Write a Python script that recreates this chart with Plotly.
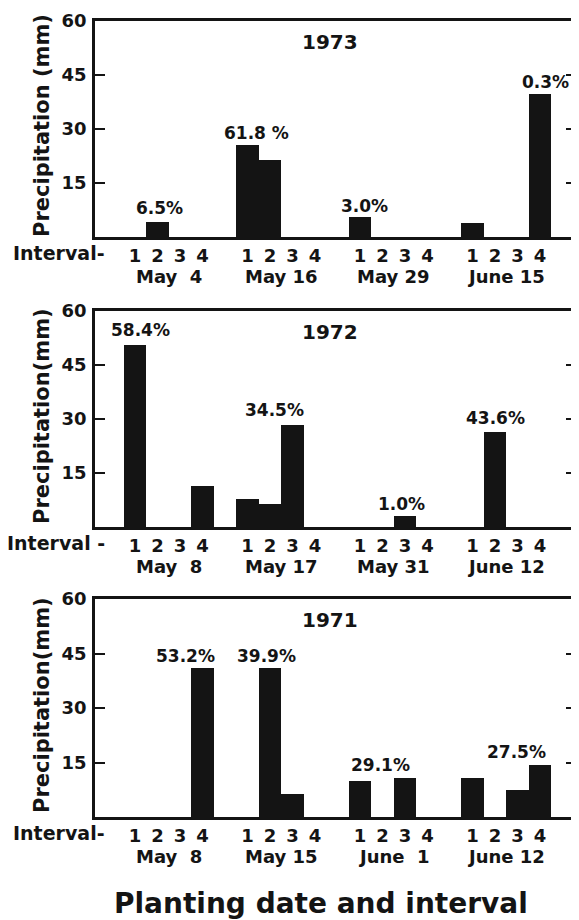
import plotly.graph_objects as go

# ---------------- data ----------------
years = ["1973", "1972", "1971"]
intervals = ["1", "2", "3", "4"]

dates_1973 = ["May\u00a0\u00a04", "May\u00a016", "May\u00a029", "June\u00a015"]
dates_1972 = ["May\u00a0\u00a08", "May\u00a017", "May\u00a031", "June\u00a012"]
dates_1971 = ["May\u00a0\u00a08", "May\u00a015", "June\u00a0\u00a01", "June\u00a012"]

# precipitation (mm), 4 intervals for each planting date (in order)
precip_1973 = [0, 4.3, 0, 0, 25.6, 21.4, 0, 0, 5.6, 0, 0, 0, 3.8, 0, 0, 39.6]
precip_1972 = [50.6, 0, 0, 11.4, 7.8, 6.4, 28.3, 0, 0, 0, 3.1, 0, 0, 26.3, 0, 0]
precip_1971 = [0, 0, 0, 41.0, 0, 41.0, 6.3, 0, 10.0, 0, 10.8, 0, 10.6, 0, 7.4, 14.3]

pct_1973 = ["6.5%", "61.8 %", "3.0%", "0.3%"]
pct_1972 = ["58.4%", "34.5%", "1.0%", "43.6%"]
pct_1971 = ["53.2%", "39.9%", "29.1%", "27.5%"]

# index of the bar above which each percentage is written
pct_bar_1973 = [1, 4, 8, 15]
pct_bar_1972 = [0, 6, 10, 13]
pct_bar_1971 = [3, 5, 10, 15]

ytick_vals = [15, 30, 45, 60]
ytitles = ["Precipitation (mm)", "Precipitation(mm)", "Precipitation(mm)"]
interval_labels = ["Interval-", "Interval -", "Interval-"]

# ---------------- layout helpers (pixels) ----------------
PAGE_OFF = 8          # default page margin around the figure
W, H = 579 - PAGE_OFF, 920 - PAGE_OFF
FONT = "DejaVu Sans"
INK = "#141414"

def px(x):
    return (x - PAGE_OFF) / W

def py(y):
    return 1 - (y - PAGE_OFF) / H

panel_px = [(21, 237), (311, 527), (599, 817)]  # top, bottom
x_left, x_right = 95, 576

# label offsets in pixels (dx, dy) for percentage annotations
pct_off_1973 = [(2, 14), (9, 12), (4, 11), (5, 12)]
pct_off_1972 = [(5, 15), (-18, 15), (-4, 12), (0, 14)]
pct_off_1971 = [(-17, 12), (-4, 12), (-25, 13), (-24, 13)]

all_precip = [precip_1973, precip_1972, precip_1971]
all_dates = [dates_1973, dates_1972, dates_1971]
all_pct = [pct_1973, pct_1972, pct_1971]
all_pct_bar = [pct_bar_1973, pct_bar_1972, pct_bar_1971]
all_pct_off = [pct_off_1973, pct_off_1972, pct_off_1971]

# bar slot positions: date group g, interval i -> g*5 + i
positions = [g * 5 + i for g in range(4) for i in range(1, 5)]
tick_text = [intervals[i - 1] for g in range(4) for i in range(1, 5)]

fig = go.Figure()
annotations = []
layout = dict(
    width=W, height=H,
    margin=dict(l=0, r=0, t=0, b=0, autoexpand=False),
    paper_bgcolor="white", plot_bgcolor="white",
    showlegend=False, bargap=0,
)

for k in range(3):
    sfx = "" if k == 0 else str(k + 1)
    xa, ya = "x" + sfx, "y" + sfx
    top, bot = panel_px[k]
    fig.add_trace(go.Bar(
        x=positions, y=all_precip[k], width=1.0,
        marker=dict(color=INK, line=dict(width=0)),
        xaxis=xa, yaxis=ya, hoverinfo="x+y",
    ))
    layout["xaxis" + sfx] = dict(
        domain=[px(x_left), px(x_right)], range=[-0.78, 20.6],
        anchor=ya, tickvals=positions, ticktext=tick_text, automargin=False,
        ticks="", showline=True, mirror=True, linecolor=INK, linewidth=2.5,
        showgrid=False, zeroline=False, ticklabelstandoff=1,
        tickfont=dict(family=FONT, size=18, weight="bold", color=INK),
    )
    layout["yaxis" + sfx] = dict(
        domain=[py(bot), py(top)], range=[0, 60], anchor=xa, automargin=False,
        tickvals=ytick_vals, ticks="inside", ticklen=10, tickwidth=2,
        tickcolor=INK, showline=True, mirror="ticks", linecolor=INK,
        linewidth=2.5, showgrid=False, zeroline=False, ticklabelstandoff=2,
        tickfont=dict(family=FONT, size=18, weight="bold", color=INK),
    )
    # y-axis title
    annotations.append(dict(
        text=ytitles[k], textangle=-90, xref="paper", yref="paper",
        x=px(42), y=py((top + bot) / 2 - 3), showarrow=False,
        xanchor="center", yanchor="middle",
        font=dict(family=FONT, size=21, weight="bold", color=INK),
    ))
    # year
    annotations.append(dict(
        text=years[k], xref="paper", yref="paper", x=px(330), y=py(top + 21),
        showarrow=False, xanchor="center", yanchor="middle",
        font=dict(family=FONT, size=20, weight="bold", color=INK),
    ))
    # Interval- label
    annotations.append(dict(
        text=interval_labels[k], xref="paper", yref="paper", x=px(107),
        y=py(bot + 16), showarrow=False, xanchor="right", yanchor="middle",
        font=dict(family=FONT, size=19, weight="bold", color=INK),
    ))
    # planting dates
    for g, d in enumerate(all_dates[k]):
        annotations.append(dict(
            text=d, xref=xa, yref="paper", x=g * 5 + 2.5, y=py(bot + 39),
            showarrow=False, xanchor="center", yanchor="middle",
            font=dict(family=FONT, size=18, weight="bold", color=INK),
        ))
    # percentage labels
    for t, b, (dx, dy) in zip(all_pct[k], all_pct_bar[k], all_pct_off[k]):
        annotations.append(dict(
            text=t, xref=xa, yref=ya, x=positions[b], y=all_precip[k][b],
            xshift=dx, yshift=dy, showarrow=False,
            xanchor="center", yanchor="middle",
            font=dict(family=FONT, size=17, weight="bold", color=INK),
        ))

annotations.append(dict(
    text="Planting date and interval", xref="paper", yref="paper",
    x=px(321), y=py(903), showarrow=False, xanchor="center", yanchor="middle",
    font=dict(family=FONT, size=28, weight="bold", color=INK),
))

layout["annotations"] = annotations
fig.update_layout(**layout)
fig.write_html("out.html")
